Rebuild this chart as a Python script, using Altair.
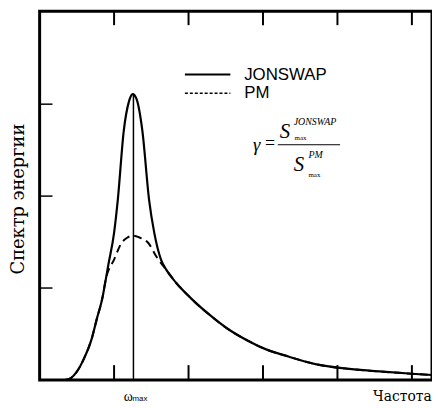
import altair as alt
import pandas as pd

# Frequency (arbitrary units) and spectral density values
freq_j = [0.345, 0.42, 0.50, 0.60, 0.70, 0.77, 0.84, 0.89, 0.92, 1.00, 1.05, 1.13,
          1.20, 1.25, 1.30, 1.38, 1.47, 1.54, 1.63, 1.70, 1.83, 2.03, 2.28, 2.52,
          2.79, 3.05, 3.32, 3.72, 4.16, 4.61, 5.05, 5.27]
jonswap = [0.0, 0.02, 0.09, 0.24, 0.45, 0.67, 0.88, 1.10, 1.24, 1.60, 1.96, 2.71,
           3.03, 3.11, 3.06, 2.71, 1.96, 1.60, 1.31, 1.20, 1.06, 0.89, 0.71, 0.56,
           0.43, 0.33, 0.26, 0.17, 0.12, 0.09, 0.065, 0.054]
freq_pm = [0.345, 0.42, 0.50, 0.60, 0.70, 0.77, 0.84, 0.89, 1.00, 1.10, 1.18, 1.26,
           1.34, 1.46, 1.57, 1.66, 1.70, 1.83, 2.03, 2.28, 2.52, 2.79, 3.05, 3.32,
           3.72, 4.16, 4.61, 5.05, 5.27]
pm = [0.0, 0.02, 0.09, 0.24, 0.45, 0.67, 0.88, 1.10, 1.31, 1.49, 1.55, 1.57,
      1.55, 1.49, 1.34, 1.24, 1.20, 1.06, 0.89, 0.71, 0.56, 0.43, 0.33, 0.26,
      0.17, 0.12, 0.09, 0.065, 0.054]

omega_max = 1.26
peak_value = 3.11
x_ticks = [1, 2, 3, 4, 5]
y_ticks = [1, 2, 3]
x_domain = [0, 5.27]
y_domain = [0, 4.01]

legend_labels = ["JONSWAP", "PM"]

W, H = 397, 373

xs = alt.Scale(domain=x_domain, nice=False, zero=False)
ys = alt.Scale(domain=y_domain, nice=False, zero=False)

df_j = pd.DataFrame({"f": freq_j, "s": jonswap})
df_pm = pd.DataFrame({"f": freq_pm, "s": pm})

noax = None

frame = alt.Chart(pd.DataFrame({"x0": [x_domain[0]], "x1": [x_domain[1]],
                                "y0": [y_domain[0]], "y1": [y_domain[1]]})).mark_rect(
    fill="#ffffff", fillOpacity=0.01, stroke="black", strokeWidth=3).encode(
    x=alt.X("x0:Q", scale=xs, axis=noax), x2="x1:Q",
    y=alt.Y("y0:Q", scale=ys, axis=noax), y2="y1:Q",
)

j_line = alt.Chart(df_j).mark_line(color="black", strokeWidth=2.2, interpolate="monotone").encode(
    x=alt.X("f:Q", scale=xs, axis=noax),
    y=alt.Y("s:Q", scale=ys, axis=noax),
)
pm_line = alt.Chart(df_pm).mark_line(color="black", strokeWidth=2, strokeDash=[8, 5],
                                      interpolate="monotone").encode(
    x=alt.X("f:Q", scale=xs, axis=noax),
    y=alt.Y("s:Q", scale=ys, axis=noax),
)

vline = alt.Chart(pd.DataFrame({"f": [omega_max], "y0": [0], "y1": [peak_value]})).mark_rule(
    color="black", strokeWidth=1.5).encode(
    x=alt.X("f:Q", scale=xs, axis=noax),
    y=alt.Y("y0:Q", scale=ys, axis=noax),
    y2="y1:Q",
)

tdf = pd.DataFrame({"t": x_ticks})
bottom_ticks = alt.Chart(tdf).mark_rule(color="black", strokeWidth=2).encode(
    x=alt.X("t:Q", scale=xs, axis=noax), y=alt.value(H), y2=alt.value(H - 15))
top_ticks = alt.Chart(tdf).mark_rule(color="black", strokeWidth=2).encode(
    x=alt.X("t:Q", scale=xs, axis=noax), y=alt.value(0), y2=alt.value(14))
ydf = pd.DataFrame({"t": y_ticks})
left_ticks = alt.Chart(ydf).mark_rule(color="black", strokeWidth=1.5).encode(
    y=alt.Y("t:Q", scale=ys, axis=noax), x=alt.value(0), x2=alt.value(13))

one = pd.DataFrame({"a": [0]})

def hrule(x, x2, y, w=2, dash=None):
    kw = {"strokeDash": dash} if dash else {}
    return alt.Chart(one).mark_rule(color="black", strokeWidth=w, **kw).encode(
        x=alt.value(x), x2=alt.value(x2), y=alt.value(y))

# legend
leg = pd.DataFrame({"label": legend_labels, "yy": [64, 83]})
leg_j = hrule(147, 193, 64, 2)
leg_pm = hrule(147, 193, 83, 1.5, [3, 2])
leg_txt = alt.Chart(leg).mark_text(align="left", baseline="middle", font="Liberation Sans",
                                   fontSize=17, color="black").encode(
    x=alt.value(207), y=alt.Y("yy:Q", scale=None), text="label:N")

def txt(s, x, y, size, font="Liberation Serif", style="italic", align="left", weight="normal", angle=0):
    return alt.Chart(pd.DataFrame({"t": [s]})).mark_text(
        align=align, baseline="middle", font=font, fontSize=size, fontStyle=style,
        fontWeight=weight, color="black", angle=angle).encode(
        x=alt.value(x), y=alt.value(y), text="t:N")

formula = [
    txt("γ", 216, 135, 19),
    txt("=", 228, 134, 18, style="normal"),
    hrule(241, 304, 135, 1),
    txt("S", 243, 122, 21),
    txt("JONSWAP", 257, 112, 10),
    txt("max", 258, 128, 7, style="normal"),
    txt("S", 257, 156, 21),
    txt("PM", 272, 145, 10),
    txt("max", 272, 166, 7, style="normal"),
]

labels = [
    txt("Спектр энергии", -21, 190, 18, font="DejaVu Serif", style="normal", align="center", angle=270),
    txt("Частота", 367, 390, 14, font="DejaVu Serif", style="normal", align="center"),
    txt("ω", 85, 390, 14, style="normal"),
    txt("max", 94, 392, 8, style="normal", font="Liberation Sans"),
]

chart = alt.layer(
    frame, j_line, pm_line, vline, bottom_ticks, top_ticks, left_ticks,
    leg_j, leg_pm, leg_txt, *formula, *labels
).properties(
    width=W, height=H,
    padding={"left": 32, "top": 1, "right": 0, "bottom": 26},
    autosize=alt.AutoSizeParams(type="none"),
).configure_view(stroke="black", strokeWidth=2).configure(background="white")

chart.save("out.html", embed_options={"renderer": "svg", "actions": False})
